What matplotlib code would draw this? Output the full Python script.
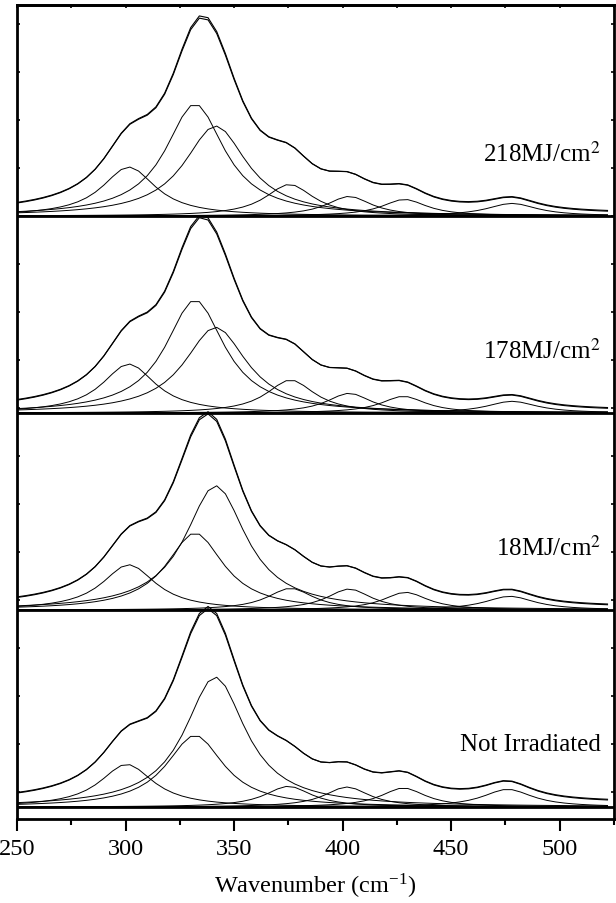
import numpy as np
import matplotlib
matplotlib.use("Agg")
import matplotlib.pyplot as plt
from matplotlib.ticker import MultipleLocator, FixedLocator, NullFormatter

plt.rcParams['font.family'] = ['Liberation Serif', 'DejaVu Serif']
plt.rcParams['mathtext.fontset'] = 'stix'

# ---------------- data (fitted band parameters, intensity in a.u.) -------------
panel_labels = ["Not Irradiated", "18MJ/cm$^2$", "178MJ/cm$^2$", "218MJ/cm$^2$"]

centers_ni = [300.5, 332.0, 341.3, 375.0, 402.0, 428.0, 476.0]
heights_ni = [42.7, 71.7, 130.0, 20.7, 20.0, 19.0, 17.7]
fwhm_ni = [30, 32, 34, 26, 25, 25, 28]
base_ni = 3.0

centers_18 = [301.5, 332.0, 341.5, 376.0, 403.0, 429.0, 477.0]
heights_18 = [45.3, 77.0, 124.3, 21.7, 21.0, 17.7, 13.7]
fwhm_18 = [30, 32, 34, 26, 25, 25, 28]
base_18 = 1.5

centers_178 = [301.5, 332.0, 341.5, 376.0, 403.0, 428.0, 478.0]
heights_178 = [49.0, 113.0, 85.7, 33.0, 19.7, 16.7, 11.7]
fwhm_178 = [30, 33, 35, 27, 25, 25, 28]
base_178 = 1.0

centers_218 = [301.5, 332.0, 341.5, 375.5, 403.0, 428.5, 478.0]
heights_218 = [49.0, 112.0, 90.0, 31.6, 19.6, 16.6, 12.6]
fwhm_218 = [30, 33, 35, 27, 25, 25, 28]
base_218 = 1.0

panels = [
    (centers_ni, heights_ni, fwhm_ni, base_ni),
    (centers_18, heights_18, fwhm_18, base_18),
    (centers_178, heights_178, fwhm_178, base_178),
    (centers_218, heights_218, fwhm_218, base_218),
]

x_min, x_max = 250, 525
panel_step = 197.0  # vertical offset between stacked spectra

# ---------------- figure -------------------------------------------------------
fig = plt.figure(figsize=(6.16, 9.04), dpi=100)
ax = fig.add_axes([17 / 616, 1 - 820 / 904, (614 - 17) / 616, (820 - 6) / 904])

x = np.arange(x_min, x_max + 1, 4.0)


def lorentz(xv, c, h, w):
    return h / (1.0 + ((xv - c) / (w / 2.0)) ** 2)


for i, (cs, hs, ws, b) in enumerate(panels):
    off = i * panel_step
    total = np.zeros_like(x) + b
    for c, h, w in zip(cs, hs, ws):
        comp = lorentz(x, c, h, w)
        total += comp
        ax.plot(x, comp + off, color='black', lw=0.7)
    ax.plot(x, total + off, color='black', lw=0.8)
    ax.plot(x, total * 0.985 + off + 0.8, color='black', lw=0.8)
    ax.axhline(off, color='black', lw=2.0, zorder=3)
    ax.text(519, off + 63, panel_labels[i], ha='right', va='center', fontsize=18)

ax.set_xlim(x_min, x_max)
ax.set_ylim(-12, 802)

ax.xaxis.set_major_locator(MultipleLocator(50))
ax.xaxis.set_minor_locator(MultipleLocator(25))
ax.tick_params(axis='x', which='major', direction='out', length=8.5, width=1.5,
               labelsize=17.5, pad=5)
ax.tick_params(axis='x', which='minor', direction='out', length=4.5, width=1.5)

ax.yaxis.set_major_locator(FixedLocator(np.arange(783, -12, -48)))
ax.yaxis.set_major_formatter(NullFormatter())
ax.tick_params(axis='y', which='major', direction='in', length=2.5, width=1.2,
               left=True, right=True)

sec = ax.secondary_xaxis('top')
sec.xaxis.set_major_locator(MultipleLocator(25))
sec.tick_params(direction='in', length=2.5, width=1.2, labelsize=0)
sec.xaxis.set_major_formatter(NullFormatter())
sec.spines['top'].set_linewidth(2)

for s in ax.spines.values():
    s.set_linewidth(2)

ax.set_xlabel("Wavenumber (cm$^{\\mathregular{-1}}$)", fontsize=17.5, labelpad=9)

fig.savefig("out.png", dpi=100)
